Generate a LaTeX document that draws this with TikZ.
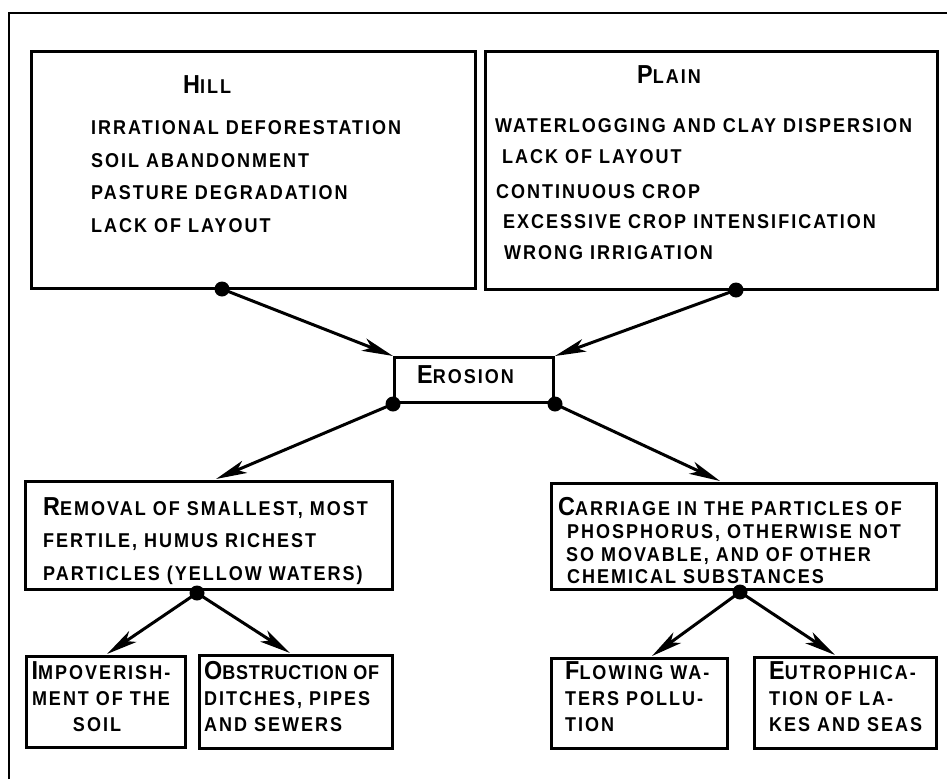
\documentclass[tikz,border=0pt]{standalone}
\usepackage{fontspec}
\setmainfont[FakeStretch=0.9,LetterSpace=10]{Liberation Sans Bold}
\usetikzlibrary{arrows.meta}
\newcommand\capL[1]{{\fontsize{26}{26}\selectfont #1}}
\begin{document}
\begin{tikzpicture}[x=1pt,y=-1pt,
  box/.style={draw, line width=3pt, inner sep=0pt, anchor=north west},
  txt/.style={inner sep=0pt, anchor=base west, font=\fontsize{20}{20}\selectfont},
  ctxt/.style={txt, anchor=base},
  dot/.style={circle, fill=black, inner sep=0pt, minimum size=15pt},
  arr/.style={line width=3pt, -{Stealth[length=31pt,width=13pt,inset=8pt]}}]
\useasboundingbox (0,0) rectangle (947,779);
% outer frame
\draw[line width=2pt] (9,779) -- (9,13) -- (947,13);

% boxes
\node[box, minimum width=444pt, minimum height=237pt] (hill) at (30,50) {};
\node[box, minimum width=452pt, minimum height=238pt] (plain) at (484,50) {};
\node[box, minimum width=159pt, minimum height=45pt] (ero) at (393,356) {};
\node[box, minimum width=367pt, minimum height=108pt] (rem) at (24,480) {};
\node[box, minimum width=385pt, minimum height=106pt] (car) at (550,482) {};
\node[box, minimum width=159pt, minimum height=91pt] (imp) at (25,655) {};
\node[box, minimum width=193pt, minimum height=93pt] (obs) at (198,654) {};
\node[box, minimum width=176pt, minimum height=90pt] (flo) at (550,657) {};
\node[box, minimum width=182pt, minimum height=91pt] (eut) at (753,656) {};

% texts: Hill
\node[txt] (hT) at (183,93) {\capL{H}ILL};
\node[txt] (h1) at (91,134) {IRRATIONAL DEFORESTATION};
\node[txt] (h2) at (91,167) {SOIL ABANDONMENT};
\node[txt] (h3) at (91,199) {PASTURE DEGRADATION};
\node[txt] (h4) at (91,232) {LACK OF LAYOUT};
% Plain
\node[txt] (pT) at (637,83) {\capL{P}LAIN};
\node[txt] (p1) at (495,132) {WATERLOGGING AND CLAY DISPERSION};
\node[txt] (p2) at (502,163) {LACK OF LAYOUT};
\node[txt] (p3) at (496,198) {CONTINUOUS CROP};
\node[txt] (p4) at (503,228) {EXCESSIVE CROP INTENSIFICATION};
\node[txt] (p5) at (504,259) {WRONG IRRIGATION};
% Erosion
\node[txt] (eT) at (417,383) {\capL{E}ROSION};
% Removal
\node[txt] (r1) at (43,515) {\capL{R}EMOVAL OF SMALLEST, MOST};
\node[txt] (r2) at (43,547) {FERTILE, HUMUS RICHEST};
\node[txt] (r3) at (43,580) {PARTICLES (YELLOW WATERS)};
% Carriage
\node[txt] (c1) at (558,515) {\capL{C}ARRIAGE IN THE PARTICLES OF};
\node[txt] (c2) at (567,538) {PHOSPHORUS, OTHERWISE NOT};
\node[txt] (c3) at (566,561) {SO MOVABLE, AND OF OTHER};
\node[txt] (c4) at (567,583) {CHEMICAL SUBSTANCES};
% bottom boxes
\node[ctxt] (i1) at (101,679) {\capL{I}MPOVERISH-};
\node[ctxt] (i2) at (101,705) {MENT OF THE};
\node[ctxt] (i3) at (97,731) {SOIL};
\node[txt] (o1) at (204,679) {\addfontfeature{LetterSpace=4}\capL{O}BSTRUCTION OF};
\node[txt] (o2) at (204,705) {DITCHES, PIPES};
\node[txt] (o3) at (204,731) {AND SEWERS};
\node[txt] (f1) at (565,679) {\capL{F}LOWING WA-};
\node[txt] (f2) at (565,705) {TERS POLLU-};
\node[txt] (f3) at (565,731) {TION};
\node[txt] (u1) at (769,679) {\capL{E}UTROPHICA-};
\node[txt] (u2) at (769,705) {TION OF LA-};
\node[txt] (u3) at (769,731) {KES AND SEAS};

% dots
\node[dot] (hd) at (222,289) {};
\node[dot] (pd) at (736,290) {};
\node[dot] (ed1) at (ero.south west) {};
\node[dot] (ed2) at (ero.south east) {};
\node[dot] (rd) at (197,593) {};
\node[dot] (cd) at (740,592) {};

% arrow targets
\coordinate (t1) at (216,479);
\coordinate (t2) at (720,481);
\coordinate (t3) at (107,654);
\coordinate (t4) at (290,653);
\coordinate (t5) at (652,656);
\coordinate (t6) at (835,655);

% connectors
\draw[arr] (hd.center) -- (ero.north west);
\draw[arr] (pd.center) -- (ero.north east);
\draw[arr] (ed1.center) -- (t1);
\draw[arr] (ed2.center) -- (t2);
\draw[arr] (rd.center) -- (t3);
\draw[arr] (rd.center) -- (t4);
\draw[arr] (cd.center) -- (t5);
\draw[arr] (cd.center) -- (t6);
\end{tikzpicture}
\end{document}
